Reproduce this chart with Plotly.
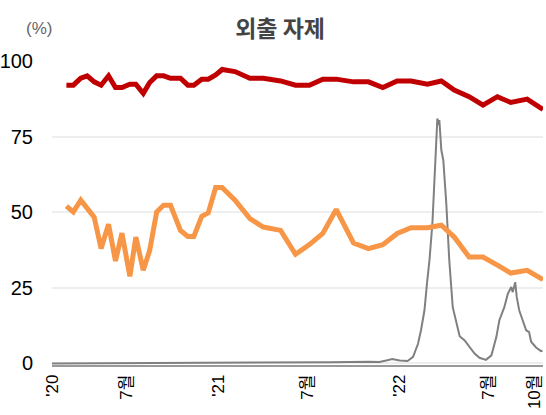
import plotly.graph_objects as go

# survey dates (biweekly in 2020, roughly monthly afterwards)
survey_dates = [
    "2020-03-01", "2020-03-15", "2020-03-30", "2020-04-12", "2020-04-26",
    "2020-05-10", "2020-05-25", "2020-06-08", "2020-06-21", "2020-07-07",
    "2020-07-19", "2020-08-03", "2020-08-16", "2020-08-30", "2020-09-13",
    "2020-09-27", "2020-10-17", "2020-11-01", "2020-11-13", "2020-11-29",
    "2020-12-12", "2020-12-27", "2021-01-09", "2021-02-04", "2021-03-06",
    "2021-04-02", "2021-05-07", "2021-06-06", "2021-07-04", "2021-07-31",
    "2021-08-27", "2021-10-01", "2021-10-31", "2021-11-29", "2021-12-28",
    "2022-01-25", "2022-02-27", "2022-03-27", "2022-04-22", "2022-05-22",
    "2022-06-19", "2022-07-18", "2022-08-14", "2022-09-16", "2022-10-18",
]
red_values = [
    92, 92, 94.3, 95.1, 93.1, 92, 95.1, 91.2, 91.2, 92.3,
    92.3, 89.3, 92.9, 95.1, 95.1, 94.3, 94.3, 92, 92, 94,
    94, 95.4, 97.2, 96.5, 94.3, 94.3, 93.4, 92, 92, 94,
    94, 93.1, 93.1, 91.2, 93.4, 93.4, 92.3, 93.4, 90.4, 88.2,
    85.4, 88.2, 86.3, 87.4, 84,
]
orange_values = [
    52, 50.1, 54, 51.2, 48.4, 38, 46, 33.9, 43.1, 28.8,
    41.8, 30.8, 37.4, 50.1, 52.3, 52.3, 44, 42, 42, 48.7,
    49.8, 58.2, 58.2, 54, 47.9, 45.1, 44, 36.1, 39.3, 43,
    50.9, 39.8, 38, 39.3, 43, 44.9, 44.9, 45.7, 41.8, 35.2,
    35.2, 32.5, 29.9, 30.8, 27.7,
]

gray_dates = [
    "2020-02-01", "2020-07-07", "2020-12-26", "2021-03-06", "2021-06-15",
    "2021-08-14", "2021-11-02", "2021-11-22", "2021-12-06", "2021-12-18",
    "2022-01-02", "2022-01-18", "2022-01-29", "2022-02-08", "2022-02-14",
    "2022-02-21", "2022-02-26", "2022-03-03", "2022-03-09", "2022-03-13",
    "2022-03-17", "2022-03-19", "2022-03-21", "2022-03-23", "2022-03-27",
    "2022-03-31", "2022-04-06", "2022-04-12", "2022-04-19", "2022-04-26",
    "2022-05-03", "2022-05-13", "2022-05-23", "2022-06-02", "2022-06-12",
    "2022-06-25", "2022-07-06", "2022-07-16", "2022-07-22", "2022-08-01",
    "2022-08-08", "2022-08-15", "2022-08-18", "2022-08-23", "2022-08-26",
    "2022-08-31", "2022-09-07", "2022-09-14", "2022-09-20", "2022-09-24",
    "2022-10-04", "2022-10-14", "2022-10-17",
]
gray_values = [
    0, 0.1, 0.3, 0.2, 0.2,
    0.4, 0.6, 0.5, 1.0, 1.5,
    1.0, 0.8, 2.2, 6.5, 11,
    17.6, 26.4, 34, 46.3, 61.7,
    77.2, 81, 78.8, 80.5, 70.5,
    67.2, 52.9, 34.2, 18.6, 13.3,
    9, 7.6, 5.5, 3.3, 1.9,
    1.2, 2.7, 8.8, 14.3, 18.6,
    23, 25.3, 23.6, 26.9, 22,
    17.6, 14.3, 11, 10.4, 7.2,
    5.3, 4.1, 4.2,
]

tick_dates = ["2020-02-01", "2020-07-01", "2021-01-01", "2021-07-01",
              "2022-01-01", "2022-07-01", "2022-10-01"]
tick_text = ["'20", "7월", "'21", "7월", "'22", "7월", "10월"]

FONT = "Arial, Liberation Sans, Noto Sans CJK KR, sans-serif"

fig = go.Figure()
fig.add_trace(go.Scatter(x=gray_dates, y=gray_values, mode="lines",
                         line=dict(color="#808080", width=2)))
fig.add_trace(go.Scatter(x=survey_dates, y=orange_values, mode="lines",
                         line=dict(color="#F79646", width=5)))
fig.add_trace(go.Scatter(x=survey_dates, y=red_values, mode="lines",
                         line=dict(color="#C00000", width=5)))

fig.update_layout(
    width=546, height=415,
    margin=dict(l=52, r=3, t=61, b=50),
    paper_bgcolor="white", plot_bgcolor="white",
    showlegend=False,
    font=dict(family=FONT, color="black"),
    title=dict(text="<b>외출 자제</b>", x=0.513, xanchor="center",
               y=0.93, yanchor="middle",
               font=dict(family="Noto Sans CJK KR", size=23, color="#444444")),
)
fig.update_xaxes(
    type="date", range=["2020-02-01", "2022-10-18"], automargin=False,
    tickvals=tick_dates, ticktext=tick_text, tickangle=-90,
    tickfont=dict(size=17, color="black"),
    showgrid=False, showline=True, linecolor="#999999", linewidth=1.5,
    ticks="outside", ticklen=1, tickcolor="rgba(0,0,0,0)",
)
fig.update_yaxes(
    range=[-0.5, 100], tickvals=[0, 25, 50, 75, 100], automargin=False,
    tickfont=dict(size=20, color="black"),
    showgrid=True, gridcolor="#EEEEEE", gridwidth=1.5,
    zeroline=False, showline=False,
    ticks="outside", ticklen=14, tickcolor="rgba(0,0,0,0)",
)
fig.add_annotation(text="(%)", xref="paper", yref="paper", x=-0.057, y=1.145,
                   showarrow=False, font=dict(size=17, color="#666666"))

# drop the browser's default body margin so the figure sits at the window corner
fig.write_html("out.html", config={"displayModeBar": False},
               post_script="document.body.style.margin = '0';")
